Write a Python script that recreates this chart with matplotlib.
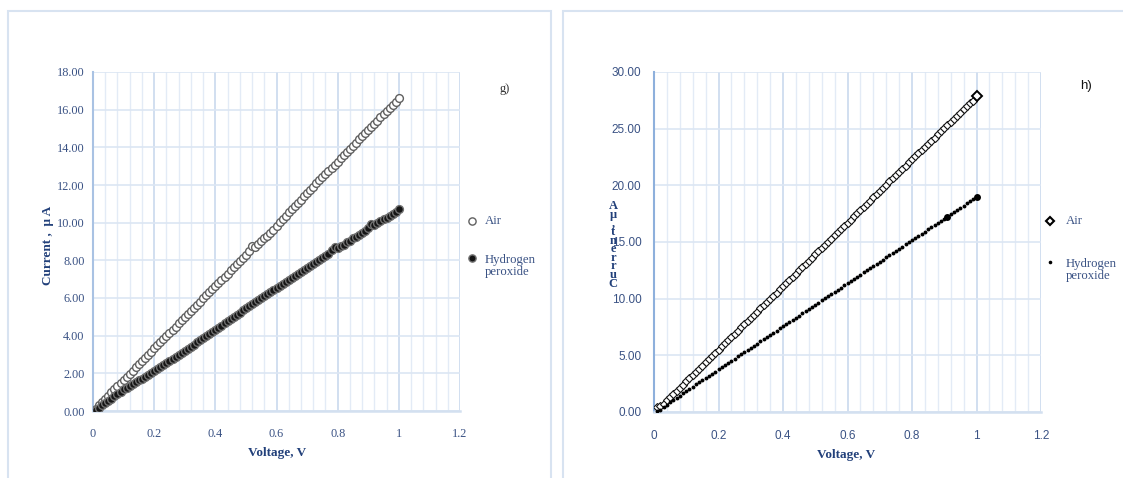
import matplotlib
matplotlib.use("Agg")
import matplotlib.pyplot as plt
from matplotlib.lines import Line2D
from matplotlib.patches import Rectangle
from matplotlib.ticker import MultipleLocator

# ---------------- data ----------------
voltage = [0.01, 0.02, 0.03, 0.04, 0.05, 0.06, 0.07, 0.08, 0.09, 0.10,
           0.11, 0.12, 0.13, 0.14, 0.15, 0.16, 0.17, 0.18, 0.19, 0.20,
           0.21, 0.22, 0.23, 0.24, 0.25, 0.26, 0.27, 0.28, 0.29, 0.30,
           0.31, 0.32, 0.33, 0.34, 0.35, 0.36, 0.37, 0.38, 0.39, 0.40,
           0.41, 0.42, 0.43, 0.44, 0.45, 0.46, 0.47, 0.48, 0.49, 0.50,
           0.51, 0.52, 0.53, 0.54, 0.55, 0.56, 0.57, 0.58, 0.59, 0.60,
           0.61, 0.62, 0.63, 0.64, 0.65, 0.66, 0.67, 0.68, 0.69, 0.70,
           0.71, 0.72, 0.73, 0.74, 0.75, 0.76, 0.77, 0.78, 0.79, 0.80,
           0.81, 0.82, 0.83, 0.84, 0.85, 0.86, 0.87, 0.88, 0.89, 0.90,
           0.91, 0.92, 0.93, 0.94, 0.95, 0.96, 0.97, 0.98, 0.99, 1.00]

# panel g) current (uA)
g_air = [0.12, 0.30, 0.48, 0.66, 0.82, 1.00, 1.15, 1.32, 1.48, 1.64,
         1.82, 1.98, 2.15, 2.31, 2.48, 2.66, 2.82, 2.98, 3.15, 3.32,
         3.48, 3.65, 3.82, 3.98, 4.15, 4.32, 4.48, 4.65, 4.81, 4.98,
         5.15, 5.31, 5.48, 5.64, 5.81, 5.98, 6.14, 6.31, 6.47, 6.64,
         6.81, 6.97, 7.14, 7.30, 7.47, 7.64, 7.80, 7.97, 8.13, 8.30,
         8.48, 8.78, 8.72, 8.88, 9.02, 9.16, 9.31, 9.46, 9.62, 9.84,
         10.02, 10.20, 10.38, 10.55, 10.72, 10.90, 11.06, 11.23, 11.40, 11.57,
         11.74, 11.91, 12.08, 12.25, 12.42, 12.58, 12.75, 12.92, 13.08, 13.24,
         13.41, 13.58, 13.75, 13.92, 14.08, 14.25, 14.42, 14.59, 14.75, 14.92,
         15.09, 15.26, 15.42, 15.59, 15.76, 15.92, 16.09, 16.26, 16.42, 16.60]
g_h2o2 = [0.05, 0.18, 0.30, 0.42, 0.55, 0.66, 0.78, 0.90, 1.03, 1.15,
          1.24, 1.33, 1.43, 1.52, 1.62, 1.72, 1.81, 1.91, 2.00, 2.10,
          2.21, 2.32, 2.43, 2.54, 2.65, 2.76, 2.87, 2.98, 3.09, 3.20,
          3.31, 3.42, 3.53, 3.64, 3.75, 3.86, 3.97, 4.08, 4.19, 4.30,
          4.42, 4.53, 4.65, 4.76, 4.88, 4.99, 5.11, 5.22, 5.34, 5.45,
          5.56, 5.67, 5.78, 5.89, 6.00, 6.11, 6.22, 6.33, 6.44, 6.55,
          6.65, 6.76, 6.86, 6.96, 7.07, 7.17, 7.27, 7.38, 7.48, 7.58,
          7.69, 7.80, 7.90, 8.01, 8.12, 8.23, 8.34, 8.55, 8.72, 8.65,
          8.74, 8.84, 8.95, 9.05, 9.16, 9.26, 9.37, 9.47, 9.58, 9.70,
          9.92, 9.88, 9.98, 10.08, 10.17, 10.27, 10.36, 10.46, 10.56, 10.70]

# panel h) current (uA)
h_air = [0.40, 0.55, 0.75, 1.02, 1.30, 1.58, 1.86, 2.14, 2.42, 2.70,
         2.98, 3.26, 3.54, 3.82, 4.10, 4.38, 4.66, 4.94, 5.22, 5.50,
         5.78, 6.06, 6.34, 6.62, 6.90, 7.18, 7.46, 7.74, 8.02, 8.30,
         8.58, 8.86, 9.14, 9.42, 9.70, 9.98, 10.26, 10.54, 10.82, 11.10,
         11.38, 11.66, 11.94, 12.22, 12.50, 12.78, 13.06, 13.34, 13.62, 13.90,
         14.18, 14.46, 14.74, 15.02, 15.30, 15.58, 15.86, 16.14, 16.42, 16.70,
         16.98, 17.26, 17.54, 17.82, 18.10, 18.38, 18.66, 18.94, 19.22, 19.50,
         19.78, 20.06, 20.34, 20.62, 20.90, 21.18, 21.46, 21.74, 22.02, 22.30,
         22.57, 22.85, 23.12, 23.40, 23.67, 23.95, 24.22, 24.50, 24.77, 25.05,
         25.32, 25.60, 25.87, 26.15, 26.42, 26.70, 26.97, 27.25, 27.45, 27.85]
h_h2o2 = [0.05, 0.20, 0.45, 0.65, 0.85, 1.05, 1.25, 1.45, 1.65, 1.85,
          2.05, 2.24, 2.43, 2.62, 2.81, 3.00, 3.19, 3.38, 3.57, 3.76,
          3.95, 4.14, 4.33, 4.52, 4.71, 4.90, 5.09, 5.28, 5.47, 5.66,
          5.85, 6.04, 6.23, 6.42, 6.61, 6.80, 6.99, 7.18, 7.37, 7.56,
          7.75, 7.94, 8.13, 8.32, 8.51, 8.70, 8.89, 9.08, 9.27, 9.46,
          9.65, 9.84, 10.03, 10.22, 10.41, 10.60, 10.79, 10.98, 11.17, 11.36,
          11.55, 11.74, 11.93, 12.12, 12.31, 12.50, 12.69, 12.88, 13.07, 13.26,
          13.45, 13.64, 13.83, 14.02, 14.21, 14.40, 14.59, 14.78, 14.97, 15.16,
          15.35, 15.54, 15.73, 15.92, 16.11, 16.30, 16.49, 16.68, 16.87, 17.06,
          17.25, 17.45, 17.64, 17.83, 18.02, 18.21, 18.40, 18.59, 18.78, 18.97]

g_yticks = [0, 2, 4, 6, 8, 10, 12, 14, 16, 18]
h_yticks = [0, 5, 10, 15, 20, 25, 30]
x_ticks = [0, 0.2, 0.4, 0.6, 0.8, 1.0, 1.2]
x_ticklabels = ["0", "0.2", "0.4", "0.6", "0.8", "1", "1.2"]
legend_labels = ["Air", "Hydrogen\nperoxide"]
panel_tags = ["g)", "h)"]

# ---------------- figure ----------------
W, H = 1123, 478
fig = plt.figure(figsize=(W / 100, H / 100), dpi=100)
fig.patch.set_facecolor("white")

def fx(px):
    return px / W

def fy(py):
    return 1 - py / H

SERIF = ["Liberation Serif", "DejaVu Serif"]
SANS = ["Liberation Sans", "DejaVu Sans"]
TICK_C = "#3a5284"
TITLE_C = "#22407a"

# panel borders
for x0, x1 in [(8, 551), (563, 1135)]:
    fig.add_artist(Rectangle((fx(x0), fy(490)), fx(x1) - fx(x0), fy(11) - fy(490),
                             transform=fig.transFigure, fill=False,
                             edgecolor="#d8e3f1", lw=1.5))

def setup(ax, yticks, ymax, tickfont, tick_fs, xpad, ypad, spine_c):
    ax.set_xlim(0, 1.2)
    ax.set_ylim(0, ymax)
    ax.set_xticks(x_ticks)
    ax.set_xticklabels(x_ticklabels)
    ax.set_yticks(yticks)
    ax.set_yticklabels([f"{v:.2f}" for v in yticks])
    ax.xaxis.set_minor_locator(MultipleLocator(0.04))
    ax.grid(which="major", axis="x", color="#c9d9ee", lw=1.2)
    ax.grid(which="minor", axis="x", color="#e3ebf6", lw=1.0)
    ax.grid(which="major", axis="y", color="#dce6f3", lw=1.2)
    ax.set_axisbelow(True)
    for s in ["top", "right"]:
        ax.spines[s].set_visible(False)
    ax.spines["left"].set_color(spine_c)
    ax.spines["left"].set_linewidth(1.5)
    ax.spines["bottom"].set_color("#d3e0f0")
    ax.spines["bottom"].set_linewidth(1.8)
    ax.tick_params(which="both", length=0, colors=TICK_C)
    ax.tick_params(axis="x", pad=xpad)
    ax.tick_params(axis="y", pad=ypad)
    for lab in ax.get_xticklabels() + ax.get_yticklabels():
        lab.set_family(tickfont)
        lab.set_fontsize(tick_fs)
        lab.set_color(TICK_C)

# ---- panel g ----
axg = fig.add_axes([fx(93), fy(411), fx(460) - fx(93), fy(72) - fy(411)])
setup(axg, g_yticks, 18, SERIF, 8.8, 12, 6, "#a9c2e3")
axg.plot(voltage, g_air, ls="none", marker="o", ms=5.6, mfc="white",
         mec="#606060", mew=1.0, zorder=3)
axg.plot(voltage, g_h2o2, ls="none", marker="o", ms=5.6, mfc="#151515",
         mec="#707070", mew=1.0, zorder=3)
fig.text(fx(277), fy(453), "Voltage, V", family=SERIF, fontsize=9.5,
         fontweight="bold", color=TITLE_C, ha="center", va="center")
fig.text(fx(48), fy(245), "Current ,  \u03bc A", family=SERIF, fontsize=9.5,
         fontweight="bold", color=TITLE_C, ha="center", va="center", rotation=90)
fig.text(fx(505), fy(89), panel_tags[0], family=SERIF, fontsize=9,
         color="#333333", ha="center", va="center")
# legend g
fig.add_artist(Line2D([fx(472)], [fy(221)], transform=fig.transFigure, ls="none",
                      marker="o", ms=5.2, mfc="white", mec="#606060", mew=1.0))
fig.add_artist(Line2D([fx(472)], [fy(258)], transform=fig.transFigure, ls="none",
                      marker="o", ms=5.2, mfc="#151515", mec="#707070", mew=1.0))
fig.text(fx(485), fy(221), legend_labels[0], family=SERIF, fontsize=9.2,
         color=TICK_C, ha="left", va="center")
fig.text(fx(485), fy(266), legend_labels[1], family=SERIF, fontsize=9.2,
         color=TICK_C, ha="left", va="center", linespacing=1.05)

# ---- panel h ----
axh = fig.add_axes([fx(654), fy(412), fx(1041) - fx(654), fy(72) - fy(412)])
setup(axh, h_yticks, 30, SANS, 8.5, 13, 9, "#8eb0dc")
axh.plot(voltage[:-1], h_air[:-1], ls="none", marker="D", ms=3.8, mfc="white",
         mec="#111111", mew=0.8, zorder=3)
axh.plot(voltage[-1:], h_air[-1:], ls="none", marker="D", ms=5.0, mfc="white",
         mec="#000000", mew=1.4, zorder=4)
axh.plot(voltage, h_h2o2, ls="none", marker="o", ms=2.8, mfc="#000000",
         mec="#000000", mew=0, zorder=3)
axh.plot([voltage[90], voltage[-1]], [h_h2o2[90], h_h2o2[-1]], ls="none",
         marker="o", ms=5.0, mfc="#000000", mec="#000000", mew=0, zorder=4)
fig.text(fx(846), fy(455), "Voltage, V", family=SERIF, fontsize=9.5,
         fontweight="bold", color=TITLE_C, ha="center", va="center")
fig.text(fx(613), fy(245), "A\n\u03bc\n,\nt\nn\ne\nr\nr\nu\nC", family=SERIF,
         fontsize=9, fontweight="bold", color=TITLE_C, ha="center", va="center",
         linespacing=0.62)
fig.text(fx(1086), fy(86), panel_tags[1], family=SANS, fontsize=9.5,
         color="#111111", ha="center", va="center")
# legend h
fig.add_artist(Line2D([fx(1050)], [fy(221)], transform=fig.transFigure, ls="none",
                      marker="D", ms=4.5, mfc="white", mec="#000000", mew=1.5))
fig.add_artist(Line2D([fx(1050)], [fy(262)], transform=fig.transFigure, ls="none",
                      marker="o", ms=2.6, mfc="#000000", mec="#000000", mew=0))
fig.text(fx(1066), fy(221), legend_labels[0], family=SERIF, fontsize=9.2,
         color=TICK_C, ha="left", va="center")
fig.text(fx(1066), fy(270), legend_labels[1], family=SERIF, fontsize=9.2,
         color=TICK_C, ha="left", va="center", linespacing=1.05)

fig.savefig("out.png", dpi=100, facecolor="white")
